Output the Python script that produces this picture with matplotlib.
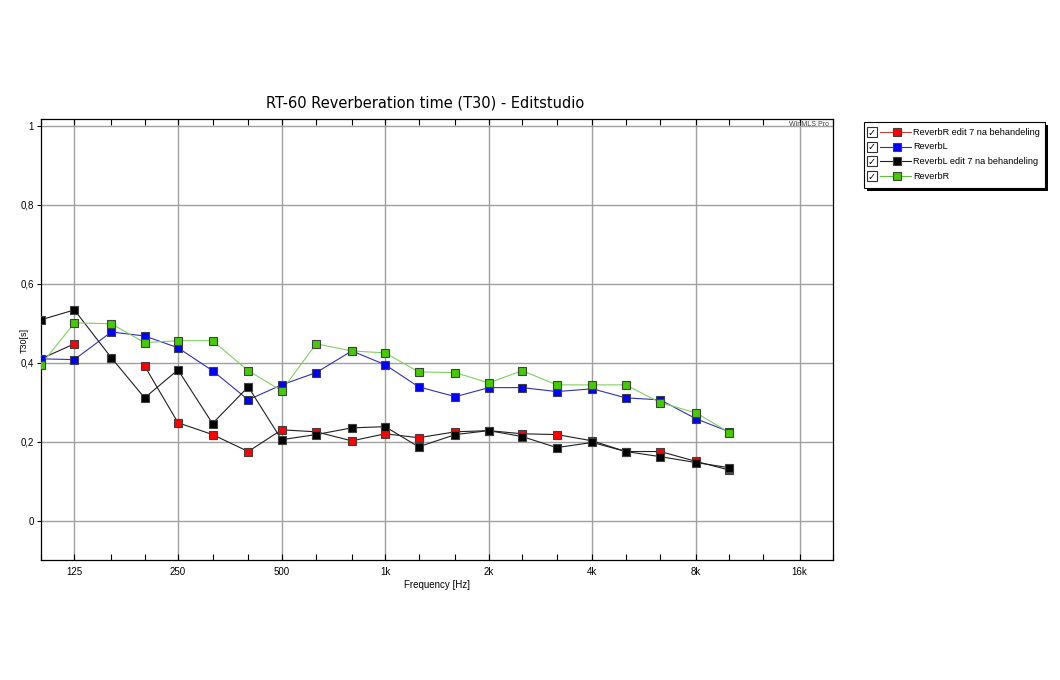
"""RT-60 reverberation time (T30) for the edit studio, before/after treatment"""

import numpy as np
import matplotlib.pyplot as plt
from matplotlib.patches import Rectangle

# 1/3 octave bands, Hz
freqs = [100, 125, 160, 200, 250, 315, 400, 500, 630, 800, 1000,
         1250, 1600, 2000, 2500, 3150, 4000, 5000, 6300, 8000, 10000]

# T30 in seconds
reverb_r_edit = [0.41, 0.448, np.nan, 0.392, 0.248, 0.218, 0.175, 0.230, 0.225, 0.202, 0.220,
                 0.210, 0.225, 0.228, 0.220, 0.218, 0.202, 0.175, 0.175, 0.150, 0.128]
reverb_l = [0.410, 0.408, 0.478, 0.468, 0.438, 0.380, 0.306, 0.344, 0.375, 0.430, 0.395,
            0.339, 0.314, 0.337, 0.337, 0.327, 0.334, 0.311, 0.306, 0.258, 0.225]
reverb_l_edit = [0.509, 0.534, 0.413, 0.311, 0.382, 0.246, 0.339, 0.205, 0.218, 0.235, 0.238,
                 0.187, 0.218, 0.228, 0.213, 0.185, 0.198, 0.175, 0.162, 0.147, 0.134]
reverb_r = [0.395, 0.501, 0.499, 0.451, 0.456, 0.456, 0.380, 0.329, 0.448, 0.430, 0.425,
            0.377, 0.375, 0.349, 0.380, 0.344, 0.344, 0.344, 0.299, 0.273, 0.223]

octave_ticks = [125, 250, 500, 1000, 2000, 4000, 8000, 16000]
octave_labels = ["125", "250", "500", "1k", "2k", "4k", "8k", "16k"]
third_ticks = [100, 160, 200, 315, 400, 630, 800, 1250, 1600, 2500, 3150,
               5000, 6300, 10000, 12500, 20000]

# series: label, values, marker colour, line colour in plot, line colour in legend
series = [
    ("ReverbR edit 7 na behandeling", reverb_r_edit, "#ff0000", "#202020", "#c04040"),
    ("ReverbL", reverb_l, "#0000ff", "#3030b0", "#3030b0"),
    ("ReverbL edit 7 na behandeling", reverb_l_edit, "#000000", "#202020", "#202020"),
    ("ReverbR", reverb_r, "#44cc00", "#80d060", "#60c040"),
]

W, H = 1060, 680
fig = plt.figure(figsize=(W / 100, H / 100), dpi=100)
plt.rcParams["font.family"] = ["Liberation Sans", "DejaVu Sans"]

ax = fig.add_axes([41 / W, 1 - 560 / H, (833 - 41) / W, (560 - 119) / H])

for label, vals, mcol, lcol, _ in series:
    ax.plot(freqs, vals, "-", color=lcol, lw=0.8, zorder=3)
    ax.plot(freqs, vals, "s", ms=6.3, mfc=mcol, mec="#404040", mew=0.8, zorder=4)

ax.set_xscale("log", base=2)
ax.set_xlim(100, 20000)
ax.set_ylim(-0.1, 1.018)

ax.set_xticks(octave_ticks)
ax.set_xticklabels(octave_labels)
ax.set_xticks(third_ticks, minor=True)
ax.set_xticklabels([], minor=True)
ax.tick_params(axis="x", which="both", direction="in", top=True, bottom=True,
               length=4, width=0.8, labelsize=7, pad=5)

yt = [0, 0.2, 0.4, 0.6, 0.8, 1]
ax.set_yticks(yt)
ax.set_yticklabels(["0", "0,2", "0,4", "0,6", "0,8", "1"])
ax.tick_params(axis="y", direction="out", length=3, width=0.8, labelsize=7, pad=2)

ax.grid(True, which="major", color="#a0a0a0", lw=1.0, zorder=0)
for s in ax.spines.values():
    s.set_linewidth(0.9)

ax.set_xlabel("Frequency [Hz]", fontsize=7, labelpad=2)
fig.text(24 / W, 1 - 340 / H, "T30[s]", rotation=90, fontsize=6.5,
         ha="center", va="center")
fig.text(425 / W, 1 - 103 / H, "RT-60 Reverberation time (T30) - Editstudio",
         fontsize=10.5, ha="center", va="center", family="DejaVu Sans")
ax.text(0.995, 0.995, "WinMLS Pro", transform=ax.transAxes, fontsize=5,
        ha="right", va="top", color="#404040")

# legend drawn in pixel units, like the WinMLS legend box with checkboxes
lg = fig.add_axes([855 / W, 1 - 200 / H, 200 / W, 90 / H])
lg.set_xlim(855, 1055)
lg.set_ylim(200, 110)
lg.axis("off")
lg.add_patch(Rectangle((867, 125), 181, 66, fc="black", ec="none"))
lg.add_patch(Rectangle((864, 122), 181, 66, fc="white", ec="black", lw=0.8))
for i, (label, vals, mcol, lcol, leg_col) in enumerate(series):
    y = 132 + i * 14.7
    lg.add_patch(Rectangle((867, y - 5), 10, 10, fc="white", ec="#303030", lw=0.8))
    lg.text(872, y + 0.5, "\u2713", fontsize=7, ha="center", va="center",
            family="DejaVu Sans", fontweight="bold")
    lg.plot([880, 911], [y, y], "-", color=leg_col, lw=0.8)
    lg.plot([897], [y], "s", ms=6.3, mfc=mcol, mec="#404040", mew=0.8)
    lg.text(913, y, label, fontsize=6.6, ha="left", va="center")

fig.savefig("out.png", dpi=100)
